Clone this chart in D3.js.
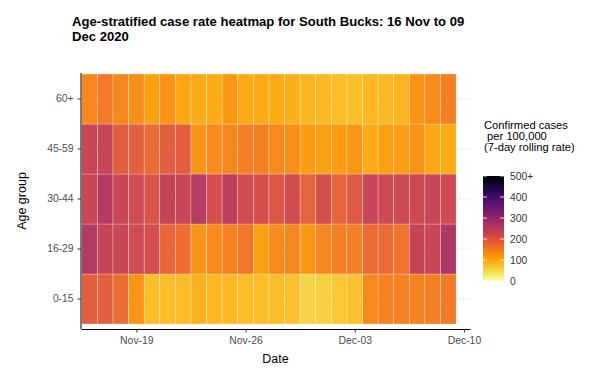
<!DOCTYPE html>
<html><head><meta charset="utf-8">
<script src="https://cdn.jsdelivr.net/npm/d3@7"></script>
<style>body{margin:0;background:#fff}svg{display:block;font-family:"Liberation Sans",Arial,sans-serif}</style>
</head><body><svg id="c" width="589" height="372"></svg>
<script>
const dates = ["2020-11-16","2020-11-17","2020-11-18","2020-11-19","2020-11-20","2020-11-21","2020-11-22","2020-11-23","2020-11-24","2020-11-25","2020-11-26","2020-11-27","2020-11-28","2020-11-29","2020-11-30","2020-12-01","2020-12-02","2020-12-03","2020-12-04","2020-12-05","2020-12-06","2020-12-07","2020-12-08","2020-12-09"];
const ageGroups = ["0-15","16-29","30-44","45-59","60+"];
const rate_0_15  = [190,190,170,125,80,80,80,90,85,85,80,80, 80,75,55,60,70,75,135,145,145,145,150,155];
const rate_16_29 = [268,240,235,225,215,180,170,125,135,145,160,110, 135,140,120,140,150,150,175,175,165,240,235,272];
const rate_30_44 = [238,265,235,225,210,242,235,262,215,252,225,215, 205,225,185,215,185,200,238,230,230,230,235,225];
const rate_45_59 = [238,238,195,190,175,195,195,125,135,140,150,150, 135,130,115,110,115,122,100,110,110,125,105,100];
const rate_60    = [140,155,140,130,110,125,105,100,100,120,100,100, 100,95,88,85,80,78,85,85,88,125,135,150];
const xTicks = ["2020-11-19","2020-11-26","2020-12-03","2020-12-10"];
const legendTicks = [0,100,200,300,400,500];
const legendLabels = ["0","100","200","300","400","500+"];

const series = [rate_0_15, rate_16_29, rate_30_44, rate_45_59, rate_60];
const parse = d3.utcParse("%Y-%m-%d");
const cells = [];
ageGroups.forEach((g,i)=>series[i].forEach((v,j)=>cells.push({g, d: parse(dates[j]), v})));

const svg = d3.select("#c");
const H12 = 12*3600*1000;
const x = d3.scaleUtc().domain([new Date(parse("2020-11-16").getTime()-H12-0.05*24*3600*1000), new Date(parse("2020-12-10").getTime()+0.39*24*3600*1000)]).range([81,470]);
const y = d3.scaleBand().domain(ageGroups).range([324,74]).padding(0);
const color = v => d3.interpolateInferno(1 - Math.min(v,500)/500);

// gridlines
svg.append("g").selectAll("line").data(ageGroups).join("line")
  .attr("x1",81).attr("x2",470).attr("y1",d=>y(d)+y.bandwidth()/2).attr("y2",d=>y(d)+y.bandwidth()/2)
  .attr("stroke","#ebebeb").attr("stroke-width",1);

// tiles
svg.append("g").selectAll("rect").data(cells).join("rect")
  .attr("x",d=>x(new Date(d.d.getTime()-H12)))
  .attr("width",d=>x(new Date(d.d.getTime()+H12))-x(new Date(d.d.getTime()-H12)))
  .attr("y",d=>y(d.g)).attr("height",y.bandwidth())
  .attr("fill",d=>color(d.v)).attr("fill-opacity",0.95)
  .attr("stroke","#fff").attr("stroke-opacity",0.45).attr("stroke-width",0.6);

// x axis
const xa = svg.append("g").attr("transform","translate(0,329)")
  .call(d3.axisBottom(x).tickValues(xTicks.map(parse)).tickFormat(d3.utcFormat("%b-%d")).tickSize(3.5).tickPadding(4).tickSizeOuter(0));
xa.select(".domain").attr("stroke","#000").attr("stroke-width",1);
xa.selectAll(".tick line").attr("stroke","#333");
xa.selectAll("text").attr("font-size","10.4px").attr("fill","#4d4d4d").attr("font-family","Liberation Sans, Arial, sans-serif");

// y axis
const ya = svg.append("g").attr("transform","translate(81,0)")
  .call(d3.axisLeft(y).tickSize(3.5).tickPadding(4).tickSizeOuter(0));
ya.select(".domain").attr("d","M0,73V329").attr("stroke","#000").attr("stroke-width",1);
ya.selectAll(".tick line").attr("stroke","#333");
ya.selectAll("text").attr("font-size","10.3px").attr("fill","#4d4d4d").attr("font-family","Liberation Sans, Arial, sans-serif");

// titles
const title = svg.append("text").attr("x",72).attr("y",25.5).attr("font-size","13.1px").attr("font-weight","bold").attr("fill","#000");
title.append("tspan").attr("x",72).attr("dy",0).text("Age-stratified case rate heatmap for South Bucks: 16 Nov to 09");
title.append("tspan").attr("x",72).attr("dy",15).text("Dec 2020");

svg.append("text").attr("x",275.5).attr("y",363).attr("text-anchor","middle").attr("font-size","12.5px").attr("fill","#000").text("Date");
svg.append("text").attr("transform","translate(26,201) rotate(-90)").attr("text-anchor","middle").attr("font-size","12.5px").attr("fill","#000").text("Age group");

// legend
const lt = svg.append("text").attr("font-size","11.2px").attr("fill","#000");
[["Confirmed cases",129],[" per 100,000",140],["(7-day rolling rate)",151]].forEach(([t,yy])=>
  lt.append("tspan").attr("x",484).attr("y",yy).attr("xml:space","preserve").style("white-space","pre").text(t));

const ly = d3.scaleLinear().domain([0,500]).range([281,176]);
const defs = svg.append("defs");
const grad = defs.append("linearGradient").attr("id","lg").attr("x1",0).attr("y1",1).attr("x2",0).attr("y2",0);
d3.range(0,1.0001,0.05).forEach(t=>grad.append("stop").attr("offset",t).attr("stop-color",color(t*500)));
svg.append("rect").attr("x",483).attr("y",ly(500)).attr("width",21).attr("height",ly(0)-ly(500)).attr("fill","url(#lg)");
const lg = svg.append("g");
lg.selectAll("line.l").data(legendTicks).join("line").attr("x1",483).attr("x2",487).attr("y1",d=>ly(d)).attr("y2",d=>ly(d)).attr("stroke","#fff").attr("stroke-width",0.8);
lg.selectAll("line.r").data(legendTicks).join("line").attr("x1",500).attr("x2",504).attr("y1",d=>ly(d)).attr("y2",d=>ly(d)).attr("stroke","#fff").attr("stroke-width",0.8);
lg.selectAll("text").data(legendTicks).join("text").attr("x",510).attr("y",d=>ly(d)).attr("dy","0.35em")
  .attr("font-size","10.3px").attr("fill","#333").text((d,i)=>legendLabels[i]);
</script></body></html>
